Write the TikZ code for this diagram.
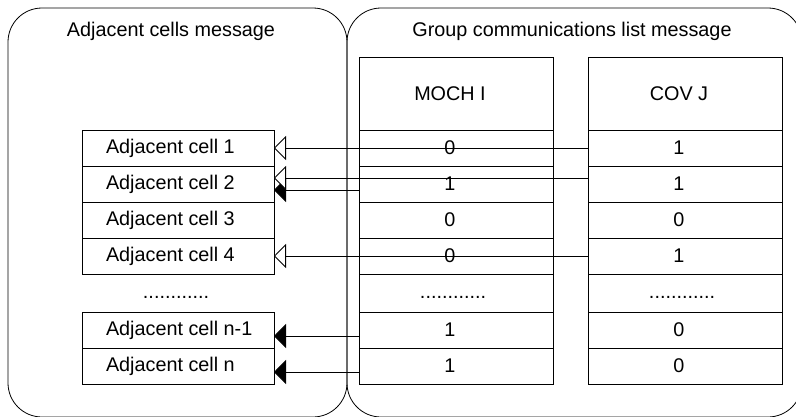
\documentclass[tikz,border=0pt]{standalone}
\usepackage{fontspec}
\setmainfont{Liberation Sans}
\usetikzlibrary{arrows.meta}
% left-aligned label inside an adjacent-cell box
\newcommand{\leftcell}[1]{\makebox[144pt][l]{#1}}

\begin{document}
\begin{tikzpicture}[x=1pt,y=-1pt,line width=0.8pt,
  font=\fontsize{19.8}{23}\selectfont,
  box/.style={draw, inner sep=0pt, outer sep=0pt},
  lcell/.style={box, minimum width=192pt, minimum height=36pt},
  tcell/.style={box, minimum width=194pt, minimum height=36pt, execute at end node=\hspace*{12pt}},
  thead/.style={tcell, minimum height=73pt},
  tdots/.style={box, minimum width=194pt, minimum height=38pt, text height=10pt, text depth=0pt, execute at end node=\hspace*{6pt}},
  hollow/.style={-{Triangle[length=12pt,width=24pt,fill=white]}},
  fullhead/.style={-{Triangle[length=12pt,width=24pt]}}]
\useasboundingbox (0,0) rectangle (796,416);

% the two message frames
\begin{scope}
  \clip (0,0) rectangle (796,416);
  \draw[rounded corners=34pt] (8,8) rectangle (347,417);
  \draw[rounded corners=34pt] (347,8) rectangle (802,417);
\end{scope}

\node (ltitle) at (171,31) {Adjacent cells message};
\node (rtitle) at (572,31) {Group communications list message};

% adjacent cells list
\node[lcell] (c1)  at (178,148) {\leftcell{Adjacent cell 1}};
\node[lcell] (c2)  at (178,184) {\leftcell{Adjacent cell 2}};
\node[lcell] (c3)  at (178,220) {\leftcell{Adjacent cell 3}};
\node[lcell] (c4)  at (178,256) {\leftcell{Adjacent cell 4}};
\node (cdots) at (176,293) [text height=10pt, text depth=0pt] {............};
\node[lcell] (cn1) at (178,330) {\leftcell{Adjacent cell n-1}};
\node[lcell] (cn)  at (178,366) {\leftcell{Adjacent cell n}};

% MOCH I column
\node[thead] (mh)  at (456,93.5) {MOCH I};
\node[tcell] (m1)  at (456,148) {0};
\node[tcell] (m2)  at (456,184) {1};
\node[tcell] (m3)  at (456,220) {0};
\node[tcell] (m4)  at (456,256) {0};
\node[tdots] (md)  at (456,293) {............};
\node[tcell] (mn1) at (456,330) {1};
\node[tcell] (mn)  at (456,366) {1};

% COV J column
\node[thead] (vh)  at (685,93.5) {COV J};
\node[tcell] (v1)  at (685,148) {1};
\node[tcell] (v2)  at (685,184) {1};
\node[tcell] (v3)  at (685,220) {0};
\node[tcell] (v4)  at (685,256) {1};
\node[tdots] (vd)  at (685,293) {............};
\node[tcell] (vn1) at (685,330) {0};
\node[tcell] (vn)  at (685,366) {0};

% connectors
\draw[hollow] (v1.west) -- (c1.east);
\draw[fullhead] ([yshift=-6pt]m2.west) -- ([yshift=-6pt]c2.east);
\draw[hollow] ([yshift=6pt]v2.west) -- ([yshift=6pt]c2.east);
\draw[hollow] (v4.west) -- (c4.east);
\draw[fullhead] ([yshift=-6pt]mn1.west) -- ([yshift=-6pt]cn1.east);
\draw[fullhead] ([yshift=-6pt]mn.west) -- ([yshift=-6pt]cn.east);
\end{tikzpicture}
\end{document}
